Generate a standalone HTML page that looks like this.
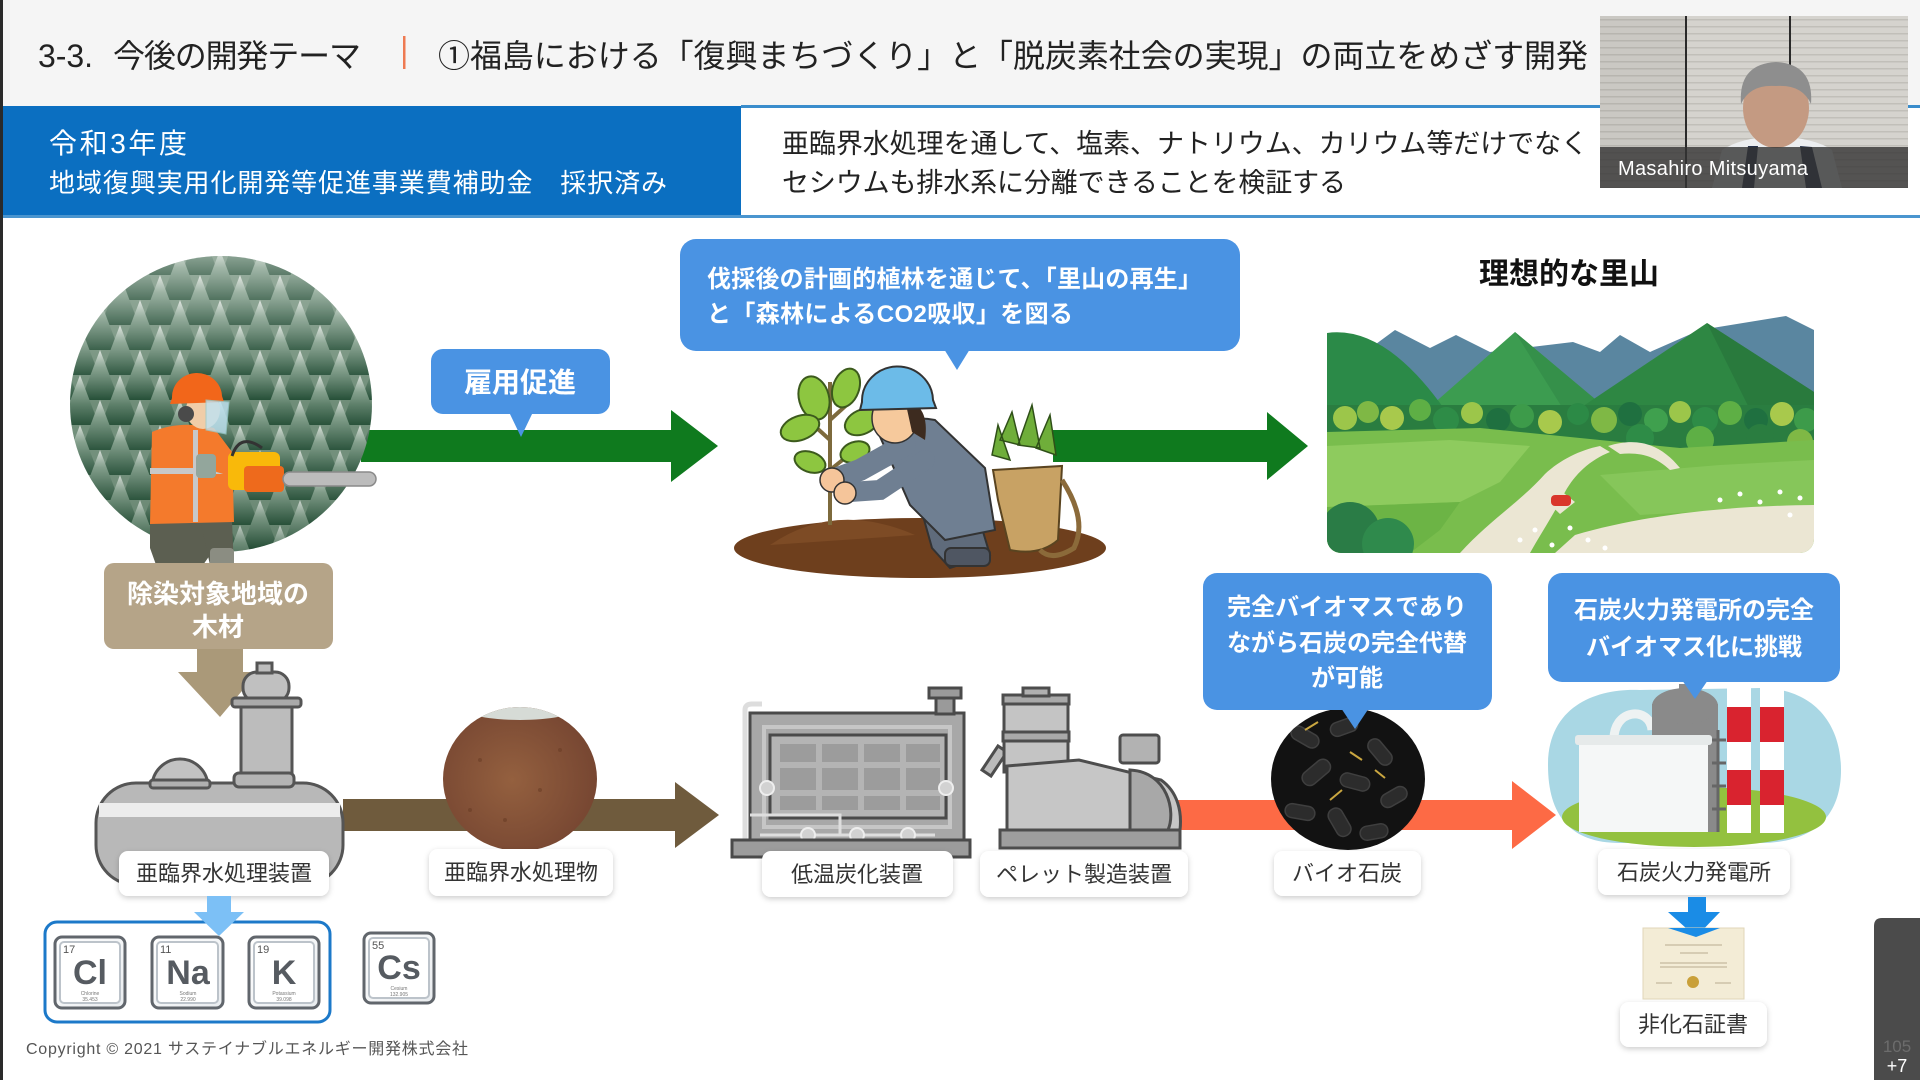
<!DOCTYPE html>
<html><head><meta charset="utf-8">
<style>
html,body{margin:0;padding:0;background:#fff;}
body{width:1920px;height:1080px;overflow:hidden;position:relative;}
svg{position:absolute;left:0;top:0;display:block;}
text{font-family:"Liberation Sans","Noto Sans CJK JP",sans-serif;}
</style></head><body>
<svg width="1920" height="1080" viewBox="0 0 1920 1080" xmlns="http://www.w3.org/2000/svg">
<defs>
 <filter id="sh" x="-20%" y="-40%" width="140%" height="180%"><feDropShadow dx="0" dy="2" stdDeviation="3" flood-color="#000" flood-opacity="0.2"/></filter>
 <linearGradient id="tg" x1="0" y1="0" x2="0" y2="1">
  <stop offset="0" stop-color="#d9e0da"/><stop offset="0.35" stop-color="#809d89"/><stop offset="1" stop-color="#244e36"/>
 </linearGradient>
 <pattern id="trees" x="0" y="0" width="40" height="50" patternUnits="userSpaceOnUse">
  <rect width="40" height="50" fill="#6f8d78"/>
  <polygon points="0,-25 19,25 -19,25" fill="url(#tg)"/>
  <polygon points="40,-25 59,25 21,25" fill="url(#tg)"/>
  <polygon points="20,0 39,50 1,50" fill="url(#tg)"/>
  <polygon points="0,25 19,75 -19,75" fill="url(#tg)"/>
  <polygon points="40,25 59,75 21,75" fill="url(#tg)"/>
 </pattern>
 <linearGradient id="fov" x1="0" y1="0" x2="0" y2="1">
  <stop offset="0" stop-color="#ffffff" stop-opacity="0.3"/><stop offset="0.5" stop-color="#ffffff" stop-opacity="0"/><stop offset="1" stop-color="#0a3018" stop-opacity="0.2"/>
 </linearGradient>
 <clipPath id="fc"><ellipse cx="221" cy="404" rx="151" ry="148"/></clipPath>
 <clipPath id="lc"><rect x="1327" y="300" width="487" height="253" rx="14"/></clipPath>
 <clipPath id="soilc"><ellipse cx="520" cy="779" rx="77" ry="72"/></clipPath>
 <clipPath id="coalc"><ellipse cx="1348" cy="779" rx="77" ry="71"/></clipPath>
 <radialGradient id="soilg" cx="0.45" cy="0.5" r="0.6">
  <stop offset="0" stop-color="#94603f"/><stop offset="1" stop-color="#734330"/>
 </radialGradient>
 <pattern id="blind" width="10" height="7" patternUnits="userSpaceOnUse"><rect width="10" height="7" fill="#d5d3ce"/><rect y="5" width="10" height="1.5" fill="#c1bfb9"/></pattern>
 <linearGradient id="tile" x1="0" y1="0" x2="1" y2="1">
  <stop offset="0" stop-color="#ffffff"/><stop offset="1" stop-color="#e9ecef"/>
 </linearGradient>
</defs>

<rect x="0" y="0" width="1920" height="1080" fill="#ffffff"/>
<!-- header -->
<rect x="0" y="0" width="1920" height="106" fill="#f5f5f5"/>
<text x="38" y="67" font-size="32" fill="#222" textLength="55">3-3.</text>
<text x="113" y="67" font-size="32" fill="#222" textLength="248">今後の開発テーマ</text>
<rect x="403" y="36" width="2.5" height="33" fill="#ee7a52"/>
<text x="438" y="67" font-size="32" fill="#222" textLength="1150">①福島における「復興まちづくり」と「脱炭素社会の実現」の両立をめざす開発</text>

<!-- band -->
<rect x="0" y="106" width="741" height="111" fill="#0b6fc1"/>
<rect x="741" y="105" width="1179" height="3" fill="#3a8dcc"/>
<rect x="0" y="215" width="1920" height="3" fill="#4a95cf"/>
<text x="49" y="153" font-size="28" fill="#fff" textLength="138">令和3年度</text>
<text x="49" y="192" font-size="26" fill="#fff" textLength="618">地域復興実用化開発等促進事業費補助金　採択済み</text>
<text x="782" y="153" font-size="27" fill="#222" textLength="806">亜臨界水処理を通して、塩素、ナトリウム、カリウム等だけでなく</text>
<text x="782" y="192" font-size="27" fill="#222" textLength="564">セシウムも排水系に分離できることを検証する</text>

<rect x="0" y="0" width="3" height="1080" fill="#2a2a2a"/>

<!-- ===== TOP FLOW ===== -->
<polygon points="361,430 671,430 671,410 718,446 671,482 671,462 361,462" fill="#0f7a1e"/>

<g clip-path="url(#fc)">
 <rect x="60" y="250" width="330" height="310" fill="url(#trees)"/>
 <rect x="60" y="250" width="330" height="310" fill="url(#fov)"/>
</g>
<g>
 <path d="M150,522 L205,520 L210,555 L196,575 L160,576 L150,548 Z" fill="#5c5f51"/>
 <path d="M200,520 L232,520 L234,572 L212,574 Z" fill="#5c5f51"/>
 <rect x="210" y="548" width="24" height="27" rx="4" fill="#8b8d82"/>
 <path d="M152,432 Q180,420 214,428 L232,452 L234,522 L150,524 Z" fill="#f47a2c"/>
 <rect x="150" y="468" width="84" height="6" fill="#c8c8c8"/>
 <rect x="193" y="430" width="5" height="92" fill="#c8c8c8"/>
 <path d="M208,440 L240,462 L236,478 L204,468 Z" fill="#f47a2c"/>
 <rect x="196" y="454" width="20" height="24" rx="4" fill="#93a69c"/>
 <ellipse cx="203" cy="410" rx="17" ry="19" fill="#f0cda8"/>
 <path d="M172,398 A25,24 0 0 1 222,396 L224,402 L170,404 Z" fill="#f2661a"/>
 <circle cx="186" cy="414" r="8" fill="#4a4a4a"/>
 <path d="M206,400 L229,402 L226,434 L206,430 Z" fill="#bfe3f3" opacity="0.8" stroke="#9cc" stroke-width="1"/>
 <rect x="228" y="452" width="52" height="38" rx="6" fill="#f9b90a"/>
 <rect x="244" y="466" width="40" height="26" rx="4" fill="#ee6a1c"/>
 <path d="M232,456 Q240,432 262,448" stroke="#333" stroke-width="3" fill="none"/>
 <rect x="283" y="472" width="93" height="14" rx="7" fill="#bcbcbc" stroke="#8a8a8a" stroke-width="1.5"/>
</g>

<polygon points="197,646 243,646 243,672 258,672 220,717 178,672 197,672" fill="#aa9979"/>
<rect x="104" y="563" width="229" height="86" rx="10" fill="#b5a488"/>
<text x="218" y="603" font-size="26" font-weight="bold" fill="#fff" text-anchor="middle">除染対象地域の</text>
<text x="218" y="636" font-size="26" font-weight="bold" fill="#fff" text-anchor="middle">木材</text>

<rect x="431" y="349" width="179" height="65" rx="12" fill="#4a93e3"/>
<polygon points="509,412 533,412 521,437" fill="#4a93e3"/>
<text x="520" y="392" font-size="28" font-weight="bold" fill="#fff" text-anchor="middle">雇用促進</text>

<polygon points="1053,430 1267,430 1267,412 1308,446 1267,480 1267,462 1053,462" fill="#0f7a1e"/>

<g>
 <ellipse cx="920" cy="548" rx="186" ry="30" fill="#6e3f1d"/>
 <path d="M770,545 Q835,500 915,535 Z" fill="#7d4b25"/>
 <path d="M830,525 L830,382 M830,440 L808,420 M830,420 L852,400 M830,470 L855,450" stroke="#7d6a3c" stroke-width="4" fill="none"/>
 <g fill="#8dc640" stroke="#3c5a1d" stroke-width="2">
  <ellipse cx="814" cy="398" rx="15" ry="22" transform="rotate(-15 814 398)"/>
  <ellipse cx="846" cy="388" rx="13" ry="20" transform="rotate(20 846 388)"/>
  <ellipse cx="800" cy="428" rx="20" ry="12" transform="rotate(-20 800 428)"/>
  <ellipse cx="862" cy="422" rx="18" ry="12" transform="rotate(-25 862 422)"/>
  <ellipse cx="810" cy="462" rx="16" ry="10" transform="rotate(20 810 462)"/>
  <ellipse cx="855" cy="452" rx="15" ry="10" transform="rotate(-20 855 452)"/>
 </g>
 <path d="M918,498 L978,515 L990,555 L950,568 L932,548 Z" fill="#5f6b7b" stroke="#333" stroke-width="2"/>
 <rect x="945" y="548" width="45" height="18" rx="6" fill="#4f5662" stroke="#333" stroke-width="2"/>
 <path d="M878,432 Q905,414 935,420 L985,468 L995,530 L945,540 L910,505 Z" fill="#6f7f92" stroke="#333" stroke-width="2"/>
 <path d="M905,445 L860,470 L838,478" stroke="#6f7f92" stroke-width="22" stroke-linecap="round" fill="none"/>
 <path d="M925,460 L880,490 L850,492" stroke="#6f7f92" stroke-width="20" stroke-linecap="round" fill="none"/>
 <circle cx="832" cy="480" r="12" fill="#f5c59a" stroke="#333" stroke-width="1.5"/>
 <circle cx="845" cy="493" r="11" fill="#f5c59a" stroke="#333" stroke-width="1.5"/>
 <ellipse cx="895" cy="418" rx="23" ry="25" fill="#f6c99c" stroke="#333" stroke-width="1.5"/>
 <path d="M905,400 Q930,405 925,440 L912,432 Z" fill="#3d2b1f"/>
 <path d="M862,402 A35,34 0 0 1 933,400 L936,408 L860,410 Z" fill="#6cbbe8" stroke="#333" stroke-width="2"/>
 <path d="M1000,440 L1012,412 L1020,445 Z M1018,445 L1032,405 L1040,448 Z M1036,448 L1050,415 L1056,455 Z M992,455 L998,425 L1010,460 Z" fill="#6fae3a" stroke="#2f5018" stroke-width="1.5"/>
 <path d="M993,470 L1062,466 L1058,540 Q1040,556 1010,550 L998,500 Z" fill="#c8a264" stroke="#5a4420" stroke-width="2"/>
 <path d="M1062,480 Q1088,520 1074,548 Q1052,562 1040,550" stroke="#8b6a3a" stroke-width="5" fill="none"/>
</g>

<rect x="680" y="239" width="560" height="112" rx="16" fill="#4a93e3"/>
<polygon points="944,349 970,349 957,370" fill="#4a93e3"/>
<text x="707" y="287" font-size="24" font-weight="bold" fill="#fff" textLength="495">伐採後の計画的植林を通じて、「里山の再生」</text>
<text x="707" y="322" font-size="24" font-weight="bold" fill="#fff" textLength="366">と「森林によるCO2吸収」を図る</text>

<text x="1569" y="284" font-size="30" font-weight="bold" fill="#111" text-anchor="middle">理想的な里山</text>

<g clip-path="url(#lc)">
 <polygon points="1327,430 1327,380 1395,330 1430,348 1456,335 1490,352 1573,342 1600,352 1620,335 1650,352 1700,330 1786,316 1814,330 1814,430" fill="#5a86a0"/>
 <polygon points="1415,420 1515,332 1620,420" fill="#3c9c50"/>
 <polygon points="1515,332 1620,420 1570,420" fill="#35904a"/>
 <polygon points="1555,425 1707,323 1814,392 1814,430 1555,430" fill="#2e8743"/>
 <polygon points="1707,323 1814,392 1814,430 1760,430" fill="#297a3d"/>
 <path d="M1327,333 Q1385,325 1445,410 L1327,415 Z" fill="#2b8a48"/>
 <rect x="1327" y="405" width="487" height="45" fill="#2a7d40"/>
 <g>
  <circle cx="1345" cy="418" r="12" fill="#9cc64a"/><circle cx="1368" cy="412" r="11" fill="#7fb845"/>
  <circle cx="1392" cy="418" r="12" fill="#a8c94c"/><circle cx="1420" cy="410" r="11" fill="#5eaf45"/>
  <circle cx="1446" cy="420" r="13" fill="#2e8c47"/><circle cx="1472" cy="413" r="11" fill="#9cc64a"/>
  <circle cx="1498" cy="420" r="12" fill="#1f7040"/><circle cx="1522" cy="416" r="12" fill="#3d9b4a"/>
  <circle cx="1550" cy="422" r="12" fill="#a8c94c"/><circle cx="1578" cy="414" r="11" fill="#2c8a46"/>
  <circle cx="1604" cy="420" r="13" fill="#7fb845"/><circle cx="1630" cy="414" r="12" fill="#1f7040"/>
  <circle cx="1656" cy="420" r="12" fill="#3fa04e"/><circle cx="1680" cy="412" r="11" fill="#9cc64a"/>
  <circle cx="1705" cy="420" r="13" fill="#2e8c47"/><circle cx="1730" cy="413" r="12" fill="#5eaf45"/>
  <circle cx="1756" cy="420" r="12" fill="#1f7040"/><circle cx="1782" cy="414" r="12" fill="#a8c94c"/>
  <circle cx="1806" cy="420" r="12" fill="#3d9b4a"/>
  <circle cx="1640" cy="438" r="14" fill="#2e8c47"/><circle cx="1700" cy="440" r="14" fill="#5eaf45"/>
  <circle cx="1760" cy="438" r="14" fill="#2a7d40"/><circle cx="1800" cy="442" r="13" fill="#7fb845"/>
 </g>
 <path d="M1327,432 L1480,428 L1600,440 L1680,448 L1814,440 L1814,553 L1327,553 Z" fill="#79bd4d"/>
 <path d="M1327,446 L1450,440 L1530,446 L1500,482 L1460,502 L1327,507 Z" fill="#8ecb5e"/>
 <path d="M1327,507 L1460,502 L1440,530 L1410,553 L1327,553 Z" fill="#6cb445"/>
 <path d="M1600,475 L1720,465 L1814,460 L1814,505 L1640,515 Z" fill="#86c65a"/>
 <path d="M1460,553 C1490,520 1520,502 1545,474 C1560,460 1580,450 1600,446 L1610,452 C1590,460 1575,474 1565,492 C1555,512 1540,535 1530,553 Z" fill="#ebe6d3"/>
 <path d="M1608,446 C1640,436 1662,446 1680,468 L1670,470 C1655,456 1640,452 1620,454 Z" fill="#ebe6d3"/>
 <path d="M1575,535 C1640,516 1720,506 1814,505 L1814,553 L1555,553 Z" fill="#ebe6d3"/>
 <path d="M1540,495 L1560,490 L1575,502 L1560,514 Z" fill="#ebe6d3"/>
 <rect x="1551" y="495" width="20" height="11" rx="4" fill="#d9362b"/>
 <circle cx="1350" cy="532" r="30" fill="#2a7c46"/><circle cx="1388" cy="544" r="26" fill="#2f8a4c"/>
 <g fill="#ffffff">
  <circle cx="1520" cy="540" r="2.5"/><circle cx="1535" cy="530" r="2.5"/><circle cx="1552" cy="545" r="2.5"/>
  <circle cx="1570" cy="528" r="2.5"/><circle cx="1588" cy="540" r="2.5"/><circle cx="1605" cy="548" r="2.5"/>
  <circle cx="1720" cy="500" r="2.5"/><circle cx="1740" cy="494" r="2.5"/><circle cx="1760" cy="502" r="2.5"/>
  <circle cx="1780" cy="492" r="2.5"/><circle cx="1800" cy="498" r="2.5"/><circle cx="1790" cy="515" r="2.5"/>
 </g>
</g>

<!-- ===== BOTTOM FLOW ===== -->
<polygon points="343,799 675,799 675,782 719,815 675,848 675,831 343,831" fill="#6f5b3d"/>

<g stroke="#555" stroke-width="3">
 <rect x="96" y="783" width="247" height="102" rx="40" fill="#b8b8b8"/>
 <path d="M152,787 A28,28 0 0 1 208,787 Z" fill="#c2c2c2"/>
 <rect x="150" y="780" width="60" height="8" rx="3" fill="#b0b0b0"/>
 <rect x="243" y="672" width="46" height="30" rx="14" fill="#c0c0c0"/>
 <rect x="257" y="663" width="15" height="10" fill="#bdbdbd"/>
 <rect x="241" y="705" width="51" height="72" fill="#bcbcbc"/>
 <rect x="232" y="698" width="69" height="9" rx="3" fill="#aaaaaa"/>
 <rect x="234" y="773" width="60" height="14" rx="5" fill="#b4b4b4"/>
</g>
<rect x="99" y="803" width="241" height="14" fill="#ececec"/>

<g clip-path="url(#soilc)">
 <rect x="440" y="700" width="160" height="160" fill="url(#soilg)"/>
 <ellipse cx="520" cy="709" rx="55" ry="11" fill="#d6dbd6"/>
 <g fill="#6a3d26" opacity="0.6">
  <circle cx="480" cy="760" r="2"/><circle cx="540" cy="790" r="2"/><circle cx="505" cy="820" r="2"/><circle cx="560" cy="750" r="2"/><circle cx="470" cy="810" r="2"/>
 </g>
</g>

<polygon points="1165,800 1512,800 1512,781 1556,815 1512,849 1512,830 1165,830" fill="#fd6a45"/>

<g>
 <path d="M745,840 L745,710 Q745,704 752,704 L762,704" stroke="#dddddd" stroke-width="5" fill="none"/>
 <rect x="750" y="713" width="214" height="128" fill="#a8a8a8" stroke="#4a4a4a" stroke-width="3"/>
 <rect x="764" y="727" width="186" height="100" fill="none" stroke="#c6c6c6" stroke-width="4"/>
 <rect x="770" y="735" width="176" height="83" fill="#b4b4b4" stroke="#4a4a4a" stroke-width="3"/>
 <g fill="#9c9c9c">
  <rect x="780" y="744" width="36" height="18"/><rect x="822" y="744" width="36" height="18"/><rect x="864" y="744" width="36" height="18"/><rect x="906" y="744" width="34" height="18"/>
  <rect x="780" y="768" width="36" height="22"/><rect x="822" y="768" width="36" height="22"/><rect x="864" y="768" width="36" height="22"/><rect x="906" y="768" width="34" height="22"/>
  <rect x="780" y="796" width="36" height="14"/><rect x="822" y="796" width="36" height="14"/><rect x="864" y="796" width="36" height="14"/><rect x="906" y="796" width="34" height="14"/>
 </g>
 <path d="M750,815 L840,815 L840,835 M760,835 L935,835" stroke="#dedede" stroke-width="3" fill="none"/>
 <g fill="#d2d2d2" stroke="#eeeeee" stroke-width="2">
  <circle cx="767" cy="788" r="7"/><circle cx="946" cy="788" r="7"/><circle cx="808" cy="835" r="7"/><circle cx="857" cy="835" r="7"/><circle cx="908" cy="835" r="7"/>
 </g>
 <rect x="936" y="698" width="18" height="16" fill="#9a9a9a" stroke="#4a4a4a" stroke-width="3"/>
 <rect x="929" y="688" width="32" height="10" fill="#9a9a9a" stroke="#4a4a4a" stroke-width="3"/>
 <rect x="732" y="840" width="238" height="17" fill="#9c9c9c" stroke="#4a4a4a" stroke-width="3"/>
</g>

<g stroke="#4d4d4d" stroke-width="3">
 <polygon points="982,770 998,746 1007,752 991,776" fill="#bbbbbb"/>
 <rect x="1004" y="700" width="64" height="72" fill="#c4c4c4"/>
 <rect x="1003" y="695" width="66" height="9" fill="#a9a9a9"/>
 <rect x="1003" y="732" width="66" height="9" fill="#a9a9a9"/>
 <rect x="1023" y="688" width="26" height="8" fill="#b0b0b0"/>
 <path d="M1007,766 L1079,760 L1161,780 C1178,792 1182,812 1180,830 L1007,830 Z" fill="#c6c6c6"/>
 <path d="M1130,770 C1168,772 1176,812 1168,830 L1130,830 Z" fill="#a8a8a8"/>
 <rect x="1120" y="735" width="39" height="28" rx="3" fill="#b2b2b2"/>
 <rect x="1000" y="830" width="180" height="18" fill="#9e9e9e"/>
</g>

<g clip-path="url(#coalc)">
 <rect x="1268" y="705" width="160" height="150" fill="#121212"/>
 <g fill="#2c2c2c" stroke="#3f3f3f" stroke-width="1.5">
  <rect x="1290" y="730" width="30" height="14" rx="7" transform="rotate(30 1305 737)"/>
  <rect x="1330" y="720" width="28" height="14" rx="7" transform="rotate(-20 1344 727)"/>
  <rect x="1365" y="745" width="30" height="14" rx="7" transform="rotate(50 1380 752)"/>
  <rect x="1300" y="765" width="32" height="15" rx="7" transform="rotate(-40 1316 772)"/>
  <rect x="1340" y="775" width="30" height="14" rx="7" transform="rotate(15 1355 782)"/>
  <rect x="1380" y="790" width="28" height="14" rx="7" transform="rotate(-30 1394 797)"/>
  <rect x="1285" y="805" width="30" height="14" rx="7" transform="rotate(10 1300 812)"/>
  <rect x="1325" y="815" width="30" height="15" rx="7" transform="rotate(60 1340 822)"/>
  <rect x="1360" y="825" width="28" height="14" rx="7" transform="rotate(-10 1374 832)"/>
 </g>
 <g stroke="#c9a640" stroke-width="2">
  <line x1="1305" y1="730" x2="1318" y2="722"/><line x1="1350" y1="752" x2="1362" y2="760"/><line x1="1330" y1="800" x2="1342" y2="790"/><line x1="1375" y1="770" x2="1385" y2="778"/>
 </g>
</g>

<g>
 <path d="M1548,765 C1548,705 1598,688 1640,690 L1760,688 C1812,688 1841,722 1841,770 C1841,815 1815,843 1760,843 L1620,843 C1570,843 1548,815 1548,765 Z" fill="#a9d7e4"/>
 <ellipse cx="1694" cy="817" rx="132" ry="30" fill="#93c13f"/>
 <path d="M1614,742 C1612,708 1650,706 1652,730" stroke="#eef2f2" stroke-width="9" fill="none"/>
 <rect x="1652" y="704" width="66" height="128" fill="#8a8a8a"/>
 <ellipse cx="1685" cy="706" rx="33" ry="18" fill="#8a8a8a"/>
 <rect x="1679" y="684" width="10" height="10" fill="#8a8a8a"/>
 <g stroke="#666" stroke-width="3"><line x1="1712" y1="740" x2="1726" y2="740"/><line x1="1712" y1="763" x2="1726" y2="763"/><line x1="1712" y1="786" x2="1726" y2="786"/><line x1="1712" y1="809" x2="1726" y2="809"/><line x1="1718" y1="730" x2="1718" y2="832"/></g>
 <rect x="1579" y="742" width="129" height="90" fill="#f5f7f7"/>
 <rect x="1575" y="735" width="137" height="10" rx="3" fill="#e6eaea"/>
 <rect x="1727" y="683" width="24" height="150" fill="#ffffff"/>
 <rect x="1760" y="683" width="24" height="150" fill="#ffffff"/>
 <rect x="1727" y="707" width="24" height="35" fill="#d9232f"/>
 <rect x="1760" y="707" width="24" height="35" fill="#d9232f"/>
 <rect x="1727" y="770" width="24" height="35" fill="#d9232f"/>
 <rect x="1760" y="770" width="24" height="35" fill="#d9232f"/>
</g>

<rect x="1203" y="573" width="289" height="137" rx="14" fill="#4a93e3"/>
<polygon points="1341,708 1369,708 1355,729" fill="#4a93e3"/>
<text x="1347" y="615" font-size="24" font-weight="bold" fill="#fff" text-anchor="middle">完全バイオマスであり</text>
<text x="1347" y="651" font-size="24" font-weight="bold" fill="#fff" text-anchor="middle">ながら石炭の完全代替</text>
<text x="1347" y="686" font-size="24" font-weight="bold" fill="#fff" text-anchor="middle">が可能</text>

<rect x="1548" y="573" width="292" height="109" rx="14" fill="#4a93e3"/>
<polygon points="1682,680 1708,680 1695,699" fill="#4a93e3"/>
<text x="1694" y="618" font-size="24" font-weight="bold" fill="#fff" text-anchor="middle">石炭火力発電所の完全</text>
<text x="1694" y="655" font-size="24" font-weight="bold" fill="#fff" text-anchor="middle">バイオマス化に挑戦</text>

<g filter="url(#sh)" fill="#fff">
 <rect x="119" y="851" width="210" height="45" rx="9"/>
 <rect x="429" y="849" width="184" height="47" rx="9"/>
 <rect x="762" y="851" width="191" height="46" rx="9"/>
 <rect x="980" y="851" width="208" height="46" rx="9"/>
 <rect x="1274" y="851" width="147" height="45" rx="9"/>
 <rect x="1598" y="849" width="192" height="46" rx="9"/>
 <rect x="1620" y="1002" width="147" height="45" rx="9"/>
</g>
<g font-size="22" fill="#333" text-anchor="middle">
 <text x="224" y="881">亜臨界水処理装置</text>
 <text x="521" y="880">亜臨界水処理物</text>
 <text x="857" y="882">低温炭化装置</text>
 <text x="1084" y="882">ペレット製造装置</text>
 <text x="1347" y="881">バイオ石炭</text>
 <text x="1694" y="880">石炭火力発電所</text>
 <text x="1693" y="1032">非化石証書</text>
</g>

<rect x="45" y="922" width="285" height="100" rx="12" fill="#fff" stroke="#1c79c9" stroke-width="3"/>
<g>
 <g>
  <rect x="55" y="937" width="70" height="71" rx="7" fill="url(#tile)" stroke="#61666c" stroke-width="3"/>
  <rect x="60" y="942" width="60" height="61" rx="4" fill="#fff" stroke="#bcc3ca" stroke-width="2"/>
  <text x="63" y="953" font-size="11" fill="#555">17</text>
  <text x="90" y="984" font-size="34" font-weight="bold" fill="#565b61" text-anchor="middle">Cl</text>
  <text x="90" y="995" font-size="5" fill="#777" text-anchor="middle">Chlorine</text>
  <text x="90" y="1001" font-size="5" fill="#777" text-anchor="middle">35.453</text>
 </g>
 <g>
  <rect x="152" y="937" width="71" height="71" rx="7" fill="url(#tile)" stroke="#61666c" stroke-width="3"/>
  <rect x="157" y="942" width="61" height="61" rx="4" fill="#fff" stroke="#bcc3ca" stroke-width="2"/>
  <text x="160" y="953" font-size="11" fill="#555">11</text>
  <text x="188" y="984" font-size="34" font-weight="bold" fill="#565b61" text-anchor="middle">Na</text>
  <text x="188" y="995" font-size="5" fill="#777" text-anchor="middle">Sodium</text>
  <text x="188" y="1001" font-size="5" fill="#777" text-anchor="middle">22.990</text>
 </g>
 <g>
  <rect x="249" y="937" width="70" height="71" rx="7" fill="url(#tile)" stroke="#61666c" stroke-width="3"/>
  <rect x="254" y="942" width="60" height="61" rx="4" fill="#fff" stroke="#bcc3ca" stroke-width="2"/>
  <text x="257" y="953" font-size="11" fill="#555">19</text>
  <text x="284" y="984" font-size="34" font-weight="bold" fill="#565b61" text-anchor="middle">K</text>
  <text x="284" y="995" font-size="5" fill="#777" text-anchor="middle">Potassium</text>
  <text x="284" y="1001" font-size="5" fill="#777" text-anchor="middle">39.098</text>
 </g>
 <g>
  <rect x="364" y="933" width="70" height="70" rx="7" fill="url(#tile)" stroke="#61666c" stroke-width="3"/>
  <rect x="369" y="938" width="60" height="60" rx="4" fill="#fff" stroke="#bcc3ca" stroke-width="2"/>
  <text x="372" y="949" font-size="11" fill="#555">55</text>
  <text x="399" y="979" font-size="34" font-weight="bold" fill="#565b61" text-anchor="middle">Cs</text>
  <text x="399" y="990" font-size="5" fill="#777" text-anchor="middle">Cesium</text>
  <text x="399" y="996" font-size="5" fill="#777" text-anchor="middle">132.905</text>
 </g>
</g>
<polygon points="207,896 231,896 231,912 244,912 219,936 194,912 207,912" fill="#7cc0f6"/>

<polygon points="1688,897 1706,897 1706,912 1720,912 1696,937 1668,912 1688,912" fill="#1a8ce6"/>
<rect x="1643" y="928" width="101" height="71" fill="#f3ecd6" stroke="#e0d6b8" stroke-width="1"/>
<polygon points="1668,928 1720,928 1696,937" fill="#1a8ce6"/>
<g stroke="#b8ad90" stroke-width="1">
 <line x1="1665" y1="945" x2="1722" y2="945"/><line x1="1680" y1="953" x2="1708" y2="953"/>
 <line x1="1660" y1="963" x2="1727" y2="963"/><line x1="1660" y1="967" x2="1727" y2="967"/>
 <line x1="1656" y1="983" x2="1672" y2="983"/><line x1="1715" y1="983" x2="1731" y2="983"/>
</g>
<circle cx="1693" cy="982" r="6" fill="#c9a03a"/>

<text x="26" y="1054" font-size="16" fill="#555" textLength="442">Copyright © 2021 サステイナブルエネルギー開発株式会社</text>

<path d="M1874,926 Q1874,918 1882,918 L1920,918 L1920,1080 L1874,1080 Z" fill="#4b4b4b"/>
<text x="1897" y="1052" font-size="17" fill="#6c6c6c" text-anchor="middle">105</text>
<text x="1897" y="1072" font-size="18" fill="#fff" text-anchor="middle">+7</text>

<g>
 <rect x="1600" y="16" width="308" height="172" fill="url(#blind)"/>
 <rect x="1600" y="16" width="86" height="172" fill="#000" opacity="0.05"/>
 <rect x="1685" y="16" width="2" height="172" fill="#2a2a2a"/>
 <rect x="1789" y="16" width="2" height="172" fill="#2a2a2a"/>
 <path d="M1712,188 L1722,150 Q1740,138 1775,136 Q1815,138 1832,150 L1842,188 Z" fill="#eceef0"/>
 <path d="M1742,188 L1748,146 L1758,146 L1754,188 Z" fill="#243049"/>
 <path d="M1806,188 L1800,146 L1812,147 L1822,188 Z" fill="#243049"/>
 <ellipse cx="1776" cy="108" rx="33" ry="40" fill="#c49a82"/>
 <path d="M1741,104 Q1738,64 1776,62 Q1814,64 1811,104 Q1802,84 1776,86 Q1750,84 1741,104 Z" fill="#8e8e8e"/>
 <rect x="1600" y="147" width="308" height="41" fill="#333" opacity="0.8"/>
 <text x="1618" y="175" font-size="20" fill="#fff" textLength="190">Masahiro Mitsuyama</text>
</g>
</svg>
</body></html>
